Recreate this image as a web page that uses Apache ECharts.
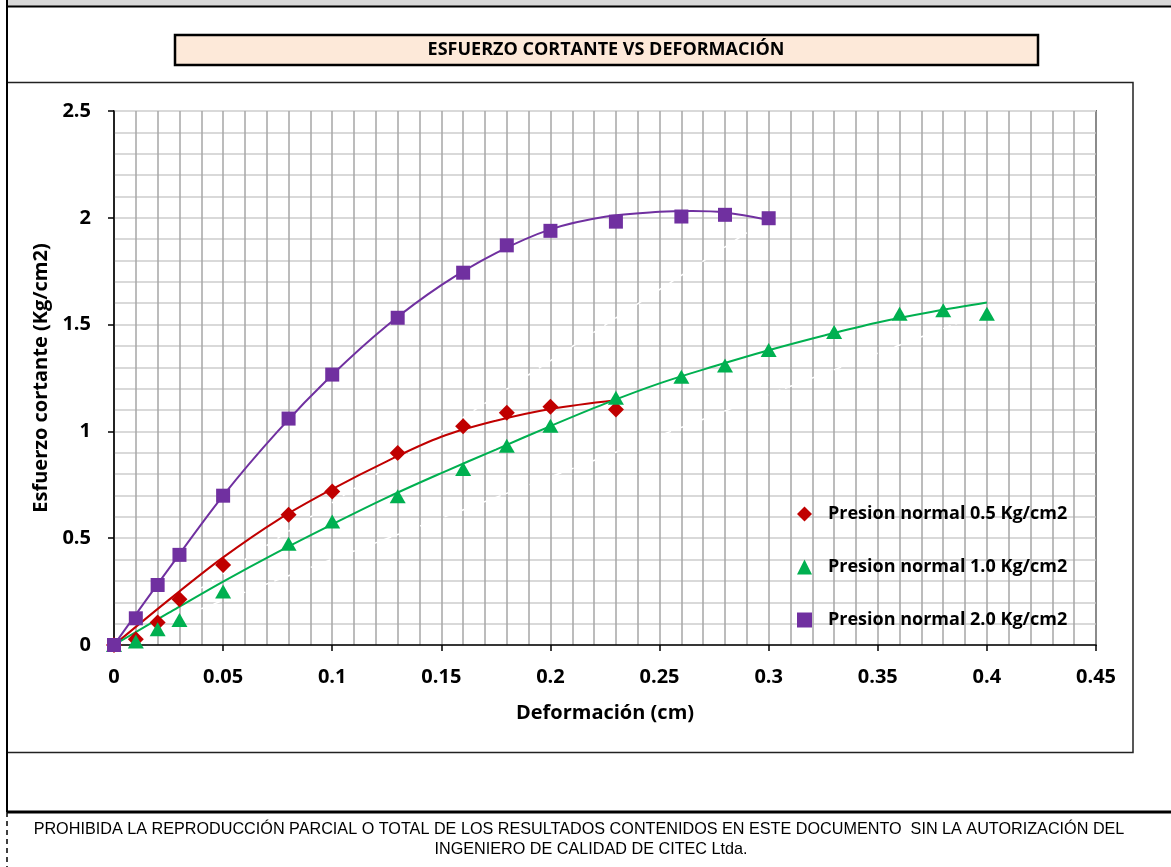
<!DOCTYPE html>
<html>
<head>
<meta charset="utf-8">
<script src="https://cdn.jsdelivr.net/npm/echarts@6/dist/echarts.min.js"></script>
<style>
html,body{margin:0;padding:0;background:#fff;}
#chart{width:1171px;height:867px;}
</style>
</head>
<body>
<div id="chart"></div>
<script>
// ---- data ----
const xTicks = [0, 0.05, 0.1, 0.15, 0.2, 0.25, 0.3, 0.35, 0.4, 0.45];
const yTicks = [0, 0.5, 1, 1.5, 2, 2.5];

const seriesNames = ['Presion normal 0.5 Kg/cm2', 'Presion normal 1.0 Kg/cm2', 'Presion normal 2.0 Kg/cm2'];

const xRed = [0, 0.01, 0.02, 0.03, 0.05, 0.08, 0.1, 0.13, 0.16, 0.18, 0.2, 0.23];
const yRed = [0, 0.027, 0.105, 0.214, 0.375, 0.61, 0.719, 0.899, 1.024, 1.087, 1.115, 1.102];

const xGreen = [0, 0.01, 0.02, 0.03, 0.05, 0.08, 0.1, 0.13, 0.16, 0.18, 0.2, 0.23, 0.26, 0.28, 0.3, 0.33, 0.36, 0.38, 0.4];
const yGreen = [0, 0.016, 0.074, 0.117, 0.25, 0.474, 0.578, 0.696, 0.824, 0.933, 1.027, 1.157, 1.256, 1.309, 1.381, 1.465, 1.551, 1.567, 1.551];

const xPurple = [0, 0.01, 0.02, 0.03, 0.05, 0.08, 0.1, 0.13, 0.16, 0.18, 0.2, 0.23, 0.26, 0.28, 0.3];
const yPurple = [0, 0.125, 0.281, 0.422, 0.699, 1.06, 1.266, 1.532, 1.743, 1.871, 1.939, 1.982, 2.006, 2.014, 1.998];

// trend lines
const trendXRed = [0, 0.025, 0.05, 0.075, 0.1, 0.125, 0.15, 0.175, 0.2, 0.23];
const trendYRed = [0, 0.21, 0.41, 0.585, 0.73, 0.86, 0.975, 1.05, 1.105, 1.146];

const trendXGreen = [0, 0.025, 0.05, 0.075, 0.1, 0.125, 0.15, 0.175, 0.2, 0.225, 0.25, 0.275, 0.3, 0.325, 0.35, 0.375, 0.4];
const trendYGreen = [0, 0.15, 0.297, 0.435, 0.565, 0.69, 0.805, 0.915, 1.025, 1.13, 1.225, 1.305, 1.38, 1.448, 1.51, 1.56, 1.603];

const trendXPurple = [0, 0.025, 0.05, 0.075, 0.1, 0.125, 0.15, 0.175, 0.2, 0.225, 0.25, 0.265, 0.28, 0.3];
const trendYPurple = [0, 0.355, 0.699, 1.0, 1.265, 1.495, 1.685, 1.835, 1.946, 2.005, 2.028, 2.032, 2.025, 1.99];

// faint white dashed lines visible over the grid
const whiteX1 = [0.03, 0.29];
const whiteY1 = [0.2, 1.93];
const whiteX2 = [0.04, 0.39];
const whiteY2 = [0.17, 1.52];

const colors = ['#c00000', '#00b050', '#7030a0'];
const symbols = ['diamond', 'triangle', 'rect'];
const symbolSizes = [[16, 16], [16, 14], [14, 14]];

function pairs(xs, ys) { return xs.map((x, i) => [x, ys[i]]); }

const FONT = '"Open Sans", Lato, "Noto Sans", sans-serif';

const chart = echarts.init(document.getElementById('chart'), null, {renderer: 'canvas'});

const scatterData = [pairs(xRed, yRed), pairs(xGreen, yGreen), pairs(xPurple, yPurple)];
const trendData = [pairs(trendXRed, trendYRed), pairs(trendXGreen, trendYGreen), pairs(trendXPurple, trendYPurple)];

const series = [];
[pairs(whiteX1, whiteY1), pairs(whiteX2, whiteY2)].forEach((d) => {
  series.push({
    type: 'line', data: d, showSymbol: false, silent: true, z: 2,
    lineStyle: {color: '#ffffff', width: 1.5, type: [8, 5]}
  });
});
trendData.forEach((d, i) => {
  series.push({
    type: 'line', data: d, showSymbol: false, silent: true, z: 3,
    smooth: 0.35,
    lineStyle: {color: colors[i], width: 2}
  });
});
scatterData.forEach((d, i) => {
  series.push({
    name: seriesNames[i], type: 'scatter', data: d, z: 5,
    symbol: symbols[i], symbolSize: symbolSizes[i],
    itemStyle: {color: colors[i], opacity: 1}
  });
});

const option = {
  animation: false,
  backgroundColor: '#ffffff',
  grid: {
    left: 114, right: 75, top: 111, bottom: 222,
    show: true, borderColor: '#000', borderWidth: 1.5, backgroundColor: 'transparent'
  },
  xAxis: {
    type: 'value', min: 0, max: 0.45, interval: 0.05,
    name: 'Deformación (cm)', nameLocation: 'middle', nameGap: 58,
    nameTextStyle: {fontFamily: FONT, fontWeight: 'bold', fontSize: 20, color: '#000'},
    axisLine: {show: true, onZero: false, lineStyle: {color: '#000', width: 1.5}},
    axisTick: {show: true, inside: false, length: 6, lineStyle: {color: '#000', width: 1.5}},
    axisLabel: {
      fontFamily: FONT, fontWeight: 'bold', fontSize: 20, color: '#000', margin: 22,
      formatter: (v) => { const t = xTicks.find(k => Math.abs(k - v) < 1e-9); return t === undefined ? '' : String(t); }
    },
    splitLine: {show: true, lineStyle: {color: '#a6a6a6', width: 1.5}},
    minorTick: {show: false, splitNumber: 5},
    minorSplitLine: {show: true, lineStyle: {color: '#a6a6a6', width: 1.5}}
  },
  yAxis: {
    type: 'value', min: 0, max: 2.5, interval: 0.5,
    name: 'Esfuerzo cortante (Kg/cm2)', nameLocation: 'middle', nameGap: 60, nameRotate: 90,
    nameTextStyle: {fontFamily: FONT, fontWeight: 'bold', fontSize: 20, color: '#000'},
    axisLine: {show: true, onZero: false, lineStyle: {color: '#000', width: 1.5}},
    axisTick: {show: true, inside: false, length: 6, lineStyle: {color: '#000', width: 1.5}},
    axisLabel: {
      fontFamily: FONT, fontWeight: 'bold', fontSize: 20, color: '#000', margin: 23,
      formatter: (v) => { const t = yTicks.find(k => Math.abs(k - v) < 1e-9); return t === undefined ? '' : String(t); }
    },
    splitLine: {show: true, lineStyle: {color: '#d9d9d9', width: 2}},
    minorTick: {show: false, splitNumber: 5},
    minorSplitLine: {show: true, lineStyle: {color: '#d9d9d9', width: 2}}
  },
  legend: {
    data: seriesNames,
    orient: 'vertical', left: 792, top: 500,
    itemWidth: 15, itemHeight: 15, itemGap: 35,
    textStyle: {fontFamily: FONT, fontWeight: 'bold', fontSize: 18, color: '#000', padding: [0, 0, 0, 11]},
    selectedMode: false
  },
  graphic: [
    {type: 'rect', silent: true, z: -10, shape: {x: 7, y: 0, width: 1164, height: 6}, style: {fill: '#d9d9d9'}},
    {type: 'line', silent: true, z: 10, shape: {x1: 7, y1: 6.5, x2: 1171, y2: 6.5}, style: {stroke: '#000', lineWidth: 2}},
    {type: 'line', silent: true, z: 10, shape: {x1: 7, y1: 0, x2: 7, y2: 812}, style: {stroke: '#000', lineWidth: 2}},
    {type: 'rect', silent: true, z: -5, shape: {x: 7, y: 82.5, width: 1126, height: 670}, style: {fill: 'none', stroke: '#222', lineWidth: 1.5}},
    {type: 'line', silent: true, z: 10, shape: {x1: 7, y1: 812, x2: 1171, y2: 812}, style: {stroke: '#000', lineWidth: 3}},
    {type: 'line', silent: true, z: 10, shape: {x1: 7, y1: 812, x2: 7, y2: 867}, style: {stroke: '#000', lineWidth: 1.5, lineDash: [5, 4]}},
    {type: 'rect', silent: true, z: 10, shape: {x: 175, y: 35, width: 863, height: 30}, style: {fill: '#fde9d9', stroke: '#000', lineWidth: 2.5}},
    {type: 'text', silent: true, z: 11, x: 606, y: 50,
      style: {text: 'ESFUERZO CORTANTE VS DEFORMACIÓN', fill: '#000', font: 'bold 18px ' + FONT, textAlign: 'center', textVerticalAlign: 'middle'}},
    {type: 'text', silent: true, z: 11, x: 579, y: 830,
      style: {text: 'PROHIBIDA LA REPRODUCCIÓN PARCIAL O TOTAL DE LOS RESULTADOS CONTENIDOS EN ESTE DOCUMENTO  SIN LA AUTORIZACIÓN DEL', fill: '#000', font: '16.2px "Liberation Sans", Arial, sans-serif', textAlign: 'center', textVerticalAlign: 'middle'}},
    {type: 'text', silent: true, z: 11, x: 591, y: 850,
      style: {text: 'INGENIERO DE CALIDAD DE CITEC Ltda.', fill: '#000', font: '16.2px "Liberation Sans", Arial, sans-serif', textAlign: 'center', textVerticalAlign: 'middle'}}
  ],
  series: series
};

chart.setOption(option);
</script>
</body>
</html>
